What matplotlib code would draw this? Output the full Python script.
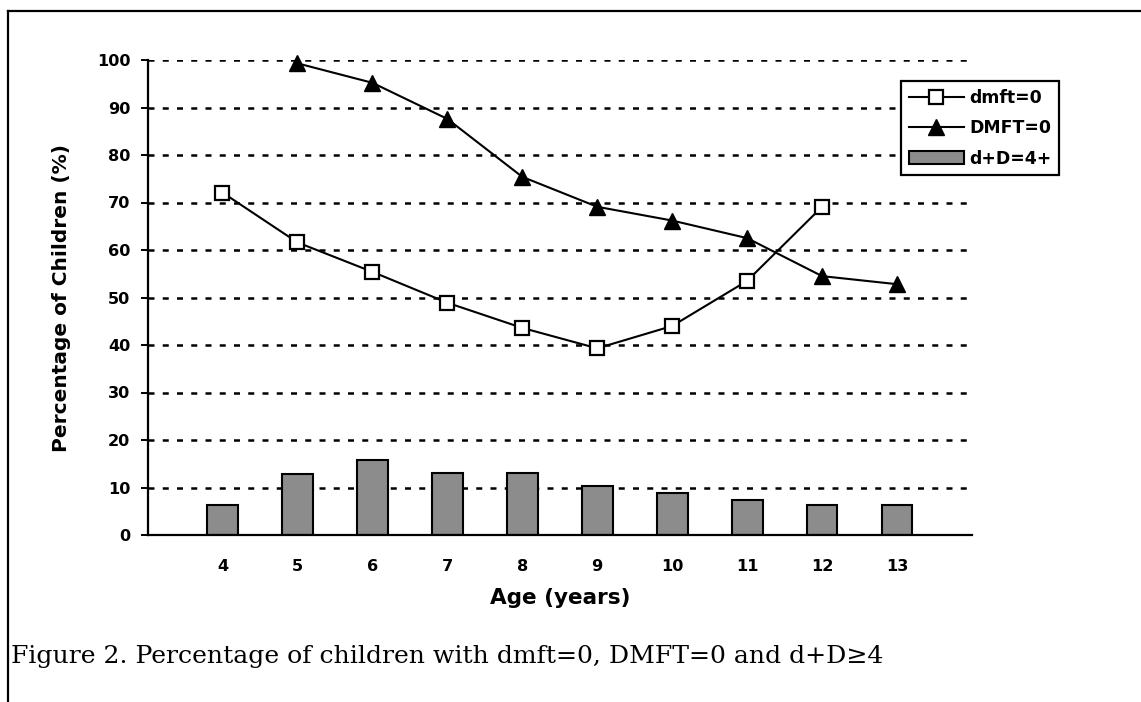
"""
Percentage of children with dmft=0, DMFT=0 and d+D>=4 by age.
"""
import numpy as np
import matplotlib.pyplot as plt
from matplotlib.lines import Line2D

#-------------------------------------------------------------------------
# Data
#-------------------------------------------------------------------------

ages      = [ 4, 5, 6, 7, 8, 9, 10, 11, 12, 13 ]
dmft_zero = [ 72.1, 61.6, 55.4, 48.9, 43.6, 39.3, 44.0, 53.5, 69.1, np.nan ]
DMFT_zero = [ np.nan, 99.3, 95.2, 87.6, 75.4, 69.1, 66.2, 62.5, 54.5, 52.8 ]
dD_four   = [ 6.4, 12.8, 15.7, 13.0, 13.0, 10.35, 8.9, 7.4, 6.4, 6.25 ]
y_ticks   = list( range( 0, 101, 10 ) )

series_names = [ 'dmft=0', 'DMFT=0', 'd+D=4+' ]
caption      = 'Figure 2. Percentage of children with dmft=0, DMFT=0 and d+D\u22654'

W, H = 1141, 702

#-------------------------------------------------------------------------
# px helpers
#-------------------------------------------------------------------------

def fx( px ):
  return px / W

def fy( py ):
  return 1.0 - py / H

#-------------------------------------------------------------------------
# plot
#-------------------------------------------------------------------------

def plot_chart():
  fig = plt.figure( figsize=( W/100, H/100 ), dpi=100 )
  fig.patch.set_facecolor( 'white' )

  # outer frame (top and left edge only, rest cut off)
  fig.add_artist( Line2D( [ fx(7.5), 1.0 ], [ fy(10.5), fy(10.5) ],
    transform=fig.transFigure, color='black', lw=1.6 ) )
  fig.add_artist( Line2D( [ fx(7.5), fx(7.5) ], [ fy(10.5), 0.0 ],
    transform=fig.transFigure, color='black', lw=1.6 ) )

  left, right, top, bottom = 147.5, 972, 60, 535
  ax = fig.add_axes( [ fx(left), fy(bottom), fx(right-left), (bottom-top)/H ] )

  # dashed grid
  ax.set_axisbelow( True )
  ax.yaxis.grid( True, color='black', lw=1.8, linestyle=( 0, ( 2.4, 3.3 ) ) )
  ax.xaxis.grid( False )

  ax.bar( ages, dD_four, width=0.41, color='#8c8c8c', edgecolor='black',
    linewidth=1.5, label=series_names[2], zorder=2 )

  ax.plot( ages, dmft_zero, color='black', lw=1.5, marker='s', markersize=9.5,
    markerfacecolor='white', markeredgecolor='black', markeredgewidth=1.6,
    label=series_names[0], zorder=4, clip_on=False )
  ax.plot( ages, DMFT_zero, color='black', lw=1.5, marker='^', markersize=11,
    markerfacecolor='black', markeredgecolor='black',
    label=series_names[1], zorder=4, clip_on=False )

  ax.set_xlim( 3, 14 )
  ax.set_ylim( 0, 100 )
  ax.set_xticks( ages )
  ax.set_xticklabels( [ str(a) for a in ages ] )
  ax.set_yticks( y_ticks )

  for s in [ 'top', 'right' ]:
    ax.spines[s].set_visible( False )
  for s in [ 'left', 'bottom' ]:
    ax.spines[s].set_linewidth( 1.6 )
    ax.spines[s].set_zorder( 3 )

  ax.tick_params( axis='x', length=0, pad=17, labelsize=11.6 )
  ax.tick_params( axis='y', length=5.4, width=1.4, direction='out', pad=7,
    labelsize=11.6 )
  for lbl in ax.get_xticklabels() + ax.get_yticklabels():
    lbl.set_fontweight( 'bold' )

  ax.set_xlabel( 'Age (years)', fontsize=15.5, fontweight='bold' )
  ax.xaxis.set_label_coords( 0.5, ( bottom - 598 ) / ( bottom - top ) )
  ax.xaxis.label.set_va( 'center' )
  ax.set_ylabel( 'Percentage of Children (%)', fontsize=14.5, fontweight='bold' )
  ax.yaxis.set_label_coords( ( 61.7 - left ) / ( right - left ), 0.5 )
  ax.yaxis.label.set_va( 'center' )

  handles, labels = ax.get_legend_handles_labels()
  order = [ labels.index( n ) for n in series_names ]
  leg = ax.legend( [ handles[i] for i in order ], [ labels[i] for i in order ],
    loc='upper left', bbox_to_anchor=( fx(901), fy(81) ),
    bbox_transform=fig.transFigure, borderaxespad=0.0,
    prop={ 'weight' : 'bold', 'size' : 12.4 },
    handlelength=3.2, handletextpad=0.3, labelspacing=0.72, borderpad=0.45,
    fancybox=False, framealpha=1.0, edgecolor='black' )
  leg.get_frame().set_linewidth( 1.6 )

  # caption, sized to span the same width as in the source
  txt = fig.text( fx(11), fy(663), caption, family='DejaVu Serif',
    fontsize=16, va='baseline', ha='left' )
  fig.canvas.draw()
  w = txt.get_window_extent().width
  txt.set_fontsize( 16 * 874 / w )

  fig.savefig( 'out.png', dpi=100 )

if __name__ == '__main__':
  plot_chart()
